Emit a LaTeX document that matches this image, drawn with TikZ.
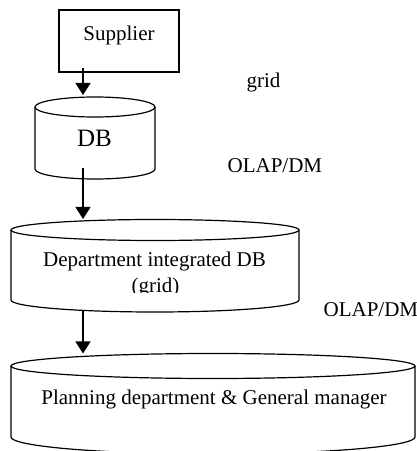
\documentclass[tikz,border=0pt]{standalone}
\usepackage{fontspec}
\setmainfont{Liberation Serif}
\usetikzlibrary{arrows.meta}
\begin{document}
\begin{tikzpicture}[x=1pt,y=1pt,
  line width=1.2pt,
  flow/.style={-{Triangle[length=12pt,width=15pt]}},
  lbl/.style={font=\fontsize{21}{25}\selectfont, inner sep=0pt},
  big/.style={font=\fontsize{25}{30}\selectfont, inner sep=0pt},
  boxnode/.style={draw, rectangle, inner sep=0pt}]
\useasboundingbox (0,0) rectangle (417,451);
\clip (0,0) rectangle (417,451);

% Supplier
\node[boxnode, minimum width=120pt, minimum height=62pt] (sup) at (119,410) {};
\node[lbl, anchor=base] (suptext) at (119,410) {Supplier};

% DB cylinder
\draw (95,344) ellipse [x radius=60pt, y radius=10pt];
\draw (35,344) -- (35,282) arc[start angle=180, end angle=360, x radius=60pt, y radius=10pt] -- (155,344);
\coordinate (dbtop) at (95,354);
\coordinate (dbin) at (83,283);
\node[big, anchor=base] (dbtext) at (94.5,304) {DB};

% Department integrated DB cylinder
\draw (155,221) ellipse [x radius=144pt, y radius=10.5pt];
\draw (11,221) -- (11,151) arc[start angle=180, end angle=360, x radius=144pt, y radius=12pt] -- (299,221);
\coordinate (deptop) at (155,232);
\coordinate (depbot) at (83,141);
\node[lbl, anchor=base] (deptext) at (154.5,184) {Department integrated DB};
\begin{scope}
  \clip (0,158) rectangle (417,200);
  \node[lbl, anchor=base] (depgrid) at (155.5,158.5) {(grid)};
\end{scope}

% Planning department cylinder
\draw (213,85) ellipse [x radius=202pt, y radius=12.5pt];
\draw (11,85) -- (11,14) arc[start angle=180, end angle=360, x radius=202pt, y radius=17pt] -- (415,85);
\coordinate (plantop) at (213,97.5);
\node[lbl, anchor=base] (plantext) at (214,46) {Planning department \& General manager};

% side labels
\node[lbl, anchor=base west] (gridlbl) at (246,363) {grid};
\node[lbl, anchor=base west] (olap1) at (227,278) {OLAP/DM};
\node[lbl, anchor=base west] (olap2) at (323,134) {OLAP/DM};

% flow arrows
\draw[flow] ([xshift=-36pt, yshift=5pt]sup.south) -- ([xshift=-12pt, yshift=2pt]dbtop);
\draw[flow] (dbin) -- ([xshift=-72pt]deptop);
\draw[flow] (depbot) -- ([xshift=-130pt]plantop);
\end{tikzpicture}
\end{document}
